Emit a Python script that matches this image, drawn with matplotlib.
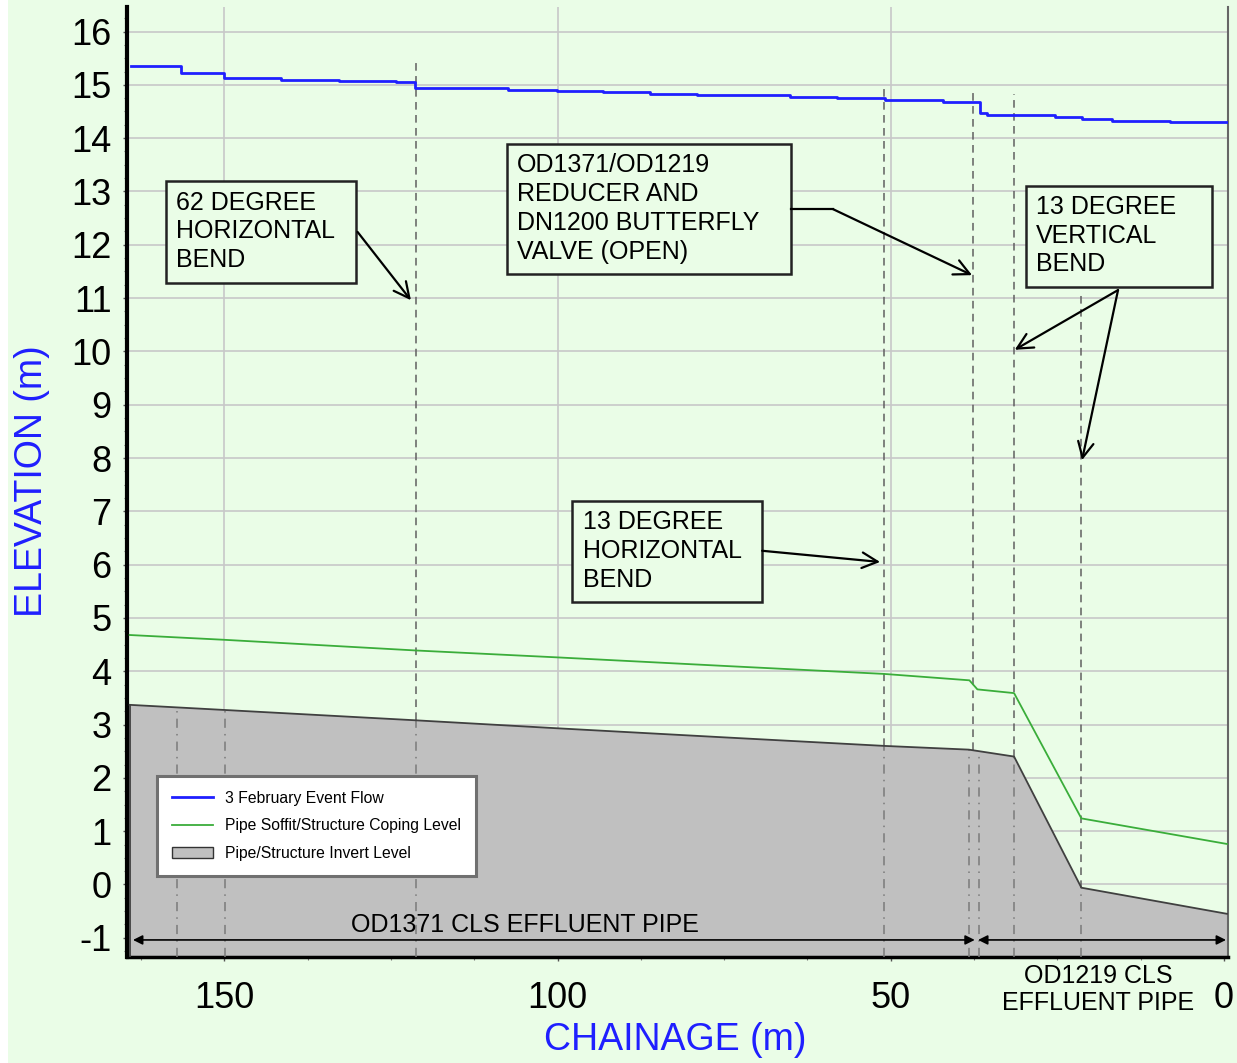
import numpy as np
import matplotlib.pyplot as plt
from matplotlib.lines import Line2D
from matplotlib.patches import Patch, Rectangle

plt.rcParams['font.family'] = ['Liberation Sans', 'DejaVu Sans']
plt.rcParams['axes.unicode_minus'] = False

BG = '#eafde7'
BLUE = '#1f1fff'

# 3 February event flow (stepped): chainage edges and level of each step
flow_edges = [164.0, 156.5, 150.1, 141.5, 132.8, 124.3, 121.4, 107.5, 100.1, 93.2, 86.1,
              79.1, 65.1, 58.1, 50.9, 42.2, 36.6, 35.6, 25.4, 21.3, 16.8, 8.1, -0.45]
flow_levels = [15.36, 15.23, 15.13, 15.10, 15.08, 15.05, 14.94, 14.91, 14.89, 14.86, 14.83,
               14.81, 14.78, 14.76, 14.71, 14.68, 14.47, 14.44, 14.39, 14.36, 14.33, 14.31]

# pipe soffit / structure coping level
soffit_ch = [164.2, 150.0, 121.3, 100.0, 75.0, 51.0, 38.2, 37.0, 31.5, 21.4, -0.45]
soffit_lvl = [4.68, 4.59, 4.39, 4.26, 4.10, 3.95, 3.83, 3.66, 3.59, 1.24, 0.76]

# pipe / structure invert level
invert_ch = [164.2, 121.3, 100.0, 75.0, 51.0, 38.3, 31.5, 21.4, -0.45]
invert_lvl = [3.37, 3.08, 2.93, 2.76, 2.60, 2.53, 2.40, -0.06, -0.55]

# structure markers below invert, and annotated bends above
node_ch = [157.1, 149.9, 121.3, 51.0, 38.3, 36.8, 31.5, 21.4]
bend_ch = [121.3, 51.0, 37.7, 31.5, 21.4]
bend_top = [15.47, 15.0, 14.87, 14.83, 11.06]

x_ticks = [150, 100, 50, 0]
y_ticks = list(range(-1, 17))

YMIN, YMAX = -1.36, 16.46
XMAX, XMIN = 164.6, -0.6

fig = plt.figure(figsize=(12.37, 10.63), dpi=100, facecolor=BG)
fig.patches.append(Rectangle((0, 0), 8 / 1237, 1, transform=fig.transFigure,
                             facecolor='white', edgecolor='none', zorder=-5))
ax = fig.add_axes([127 / 1237, 1 - 957 / 1063, 1101 / 1237, 950 / 1063])
ax.set_facecolor(BG)
ax.set_xlim(XMAX, XMIN)
ax.set_ylim(YMIN, YMAX)

ax.set_xticks(x_ticks)
ax.set_yticks(y_ticks)
ax.set_xticks(np.arange(0, 165, 12.5), minor=True)
ax.set_yticks(np.arange(-1.25, 16.5, 0.25), minor=True)
ax.grid(True, axis='y', which='major', color='#c8c8c8', lw=1.2)
for c in x_ticks[:-1]:
    ax.axvline(c, color='#c8c8c8', lw=1.2, zorder=0.5)
ax.set_axisbelow(True)
ax.tick_params(axis='both', which='major', labelsize=26, length=3, width=1, color='#555555')
ax.tick_params(axis='y', which='major', pad=8)
ax.tick_params(axis='x', which='major', pad=14)
ax.tick_params(axis='both', which='minor', length=2, width=0.8, color='#777777')

ax.spines['top'].set_visible(False)
ax.spines['left'].set_linewidth(3)
ax.spines['bottom'].set_linewidth(2.5)
ax.spines['right'].set_linewidth(1.5)
ax.spines['right'].set_color('#666666')

# invert fill
ax.fill_between(invert_ch, invert_lvl, YMIN, facecolor='#c0c0c0', edgecolor='none', zorder=2)
ax.plot(invert_ch, invert_lvl, color='#404040', lw=1.3, zorder=4)
ax.plot([invert_ch[0], invert_ch[0]], [YMIN, invert_lvl[0]], color='#404040', lw=1.3, zorder=4)

# vertical marker lines
inv_x = invert_ch[::-1]
inv_y = invert_lvl[::-1]
for c in node_ch:
    top = np.interp(c, inv_x, inv_y)
    ax.plot([c, c], [YMIN, top], color='#7a7a7a', lw=1.1, dashes=(6, 4, 1, 4), zorder=3)
for c, t in zip(bend_ch, bend_top):
    bot = np.interp(c, inv_x, inv_y)
    ax.plot([c, c], [bot, t], color='#606060', lw=1.1, dashes=(5, 3.5), zorder=3)

# lines
ax.step(flow_edges, flow_levels + [flow_levels[-1]], where='post', color=BLUE, lw=2, zorder=5)
ax.plot(soffit_ch, soffit_lvl, color='#3aad3a', lw=1.3, zorder=5)

# annotation boxes
FS = 18
boxes = [
    ((130.3, 11.28), 28.5, 1.92, 157.3, 12.25, '62 DEGREE\nHORIZONTAL\nBEND'),
    ((65.0, 11.45), 42.6, 2.44, 106.1, 12.68, 'OD1371/OD1219\nREDUCER AND\nDN1200 BUTTERFLY\nVALVE (OPEN)'),
    ((1.8, 11.21), 27.9, 1.89, 28.2, 12.17, '13 DEGREE\nVERTICAL\nBEND'),
    ((69.3, 5.29), 28.6, 1.90, 96.2, 6.26, '13 DEGREE\nHORIZONTAL\nBEND'),
]
for xy, w, h, tx, ty, txt in boxes:
    ax.add_patch(Rectangle(xy, w, h, facecolor=BG, edgecolor='#222222', lw=1.8, zorder=6))
    ax.text(tx, ty, txt, fontsize=FS, ha='left', va='center', linespacing=1.25, zorder=7)

arrow = dict(arrowstyle='->', lw=1.6, color='black', mutation_scale=28, shrinkA=0, shrinkB=0)
ax.annotate('', xy=(122.0, 10.96), xytext=(130.0, 12.24), arrowprops=arrow, zorder=7)
ax.plot([65.0, 58.7], [12.67, 12.67], color='black', lw=1.6, zorder=7)
ax.annotate('', xy=(37.8, 11.43), xytext=(58.7, 12.67), arrowprops=arrow, zorder=7)
ax.annotate('', xy=(31.4, 10.03), xytext=(15.9, 11.15), arrowprops=arrow, zorder=7)
ax.annotate('', xy=(21.3, 7.96), xytext=(15.9, 11.15), arrowprops=arrow, zorder=7)
ax.annotate('', xy=(51.6, 6.05), xytext=(69.3, 6.26), arrowprops=arrow, zorder=7)

# pipe extents
dbl = dict(arrowstyle='<|-|>', lw=1.2, color='black', mutation_scale=14, shrinkA=0, shrinkB=0)
ax.annotate('', xy=(37.4, -1.04), xytext=(163.7, -1.04), arrowprops=dbl, zorder=7)
ax.annotate('', xy=(-0.3, -1.04), xytext=(36.9, -1.04), arrowprops=dbl, zorder=7)
ax.text(104.9, -0.76, 'OD1371 CLS EFFLUENT PIPE', fontsize=FS, ha='center', va='center', zorder=7)
ax.text(18.9, -1.97, 'OD1219 CLS\nEFFLUENT PIPE', fontsize=FS, ha='center', va='center',
        linespacing=1.2, clip_on=False, zorder=7)

# legend
handles = [Line2D([], [], color=BLUE, lw=2),
           Line2D([], [], color='#3aad3a', lw=1.3),
           Patch(facecolor='#c0c0c0', edgecolor='#333333', lw=1)]
labels = ['3 February Event Flow', 'Pipe Soffit/Structure Coping Level', 'Pipe/Structure Invert Level']
leg = ax.legend(handles, labels, loc='upper left', bbox_to_anchor=(0.0272, 0.1905),
                borderaxespad=0, fontsize=11.3, fancybox=False, framealpha=1,
                edgecolor='#707070', borderpad=0.95, labelspacing=0.8,
                handlelength=2.6, handletextpad=0.8)
leg.get_frame().set_linewidth(2.2)
leg.set_zorder(8)

fig.text(675 / 1237, 1 - 1040 / 1063, 'CHAINAGE (m)', color=BLUE, fontsize=27,
         ha='center', va='center')
fig.text(32 / 1237, 1 - 481 / 1063, 'ELEVATION (m)', color=BLUE, fontsize=27,
         ha='center', va='center', rotation=90)

fig.savefig('out.png', dpi=100, facecolor=BG)
